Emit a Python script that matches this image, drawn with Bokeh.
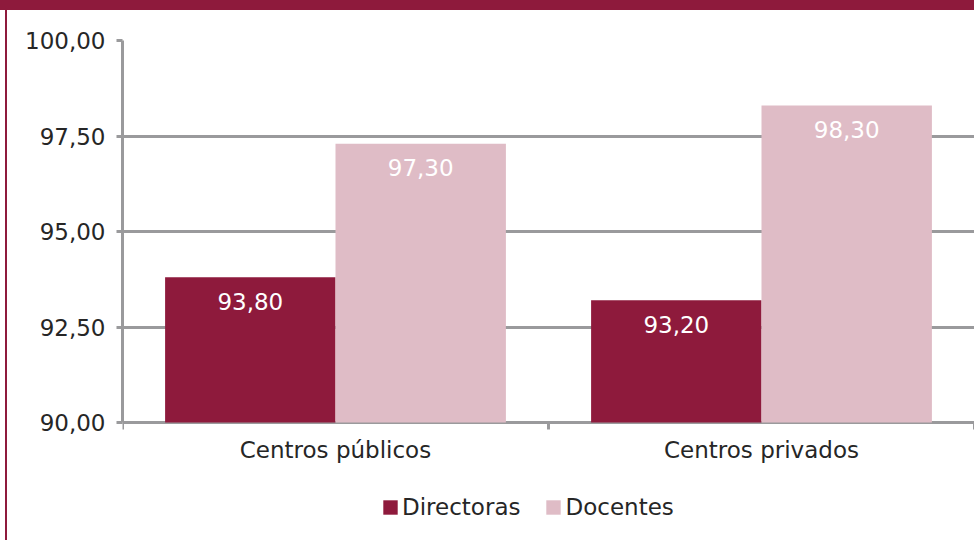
import math
from bokeh.plotting import figure
from bokeh.models import (ColumnDataSource, Range1d, FixedTicker, CustomJSTickFormatter,
                          LabelSet, Legend, LegendItem)
from bokeh.core.properties import value
from bokeh.embed import file_html
from bokeh.resources import INLINE

categories = ["Centros públicos", "Centros privados"]
series_names = ["Directoras", "Docentes"]
directoras = [93.80, 93.20]
docentes = [97.30, 98.30]
y_ticks = [90.0, 92.5, 95.0, 97.5, 100.0]

colors = ["#8E1A3C", "#DFBCC6"]
banner = "#8E1A3C"
grid_color = "#9A9A9C"
text_color = "#262626"
FONT = "DejaVu Sans"
FS = "23px"

# layout: value axis 90..100 spans 382px; the frame continues below 90 to hold labels/legend
FRAME_W, FRAME_H, VALUE_PX = 852, 500, 382
y_min, y_max = y_ticks[0], y_ticks[-1]
y_start = y_min - (FRAME_H - VALUE_PX) * (y_max - y_min) / VALUE_PX

p = figure(frame_width=FRAME_W, frame_height=FRAME_H, output_backend="svg",
           toolbar_location=None, x_axis_location=None,
           x_range=Range1d(0, len(categories)), y_range=Range1d(y_start, y_max),
           min_border_left=122, min_border_right=0, min_border_top=40, min_border_bottom=0)
p.outline_line_color = None
p.background_fill_color = "white"
p.border_fill_alpha = 0
p.styles = {
    "background": (f"linear-gradient({banner}, {banner}) 0 0 / 100% 10px no-repeat, "
                   f"linear-gradient({banner}, {banner}) 5px 0 / 2px 100% no-repeat, white"),
}

# y axis
p.yaxis.bounds = (y_min, y_max)
p.yaxis.ticker = FixedTicker(ticks=y_ticks, minor_ticks=[])
p.yaxis.formatter = CustomJSTickFormatter(code="return tick.toFixed(2).replace('.', ',');")
p.yaxis.axis_line_color = grid_color
p.yaxis.axis_line_width = 3
p.yaxis.major_tick_line_color = grid_color
p.yaxis.major_tick_line_width = 3
p.yaxis.major_tick_out = 6
p.yaxis.major_tick_in = 0
p.yaxis.major_label_standoff = 11
p.yaxis.major_label_text_font = FONT
p.yaxis.major_label_text_font_size = FS
p.yaxis.major_label_text_color = text_color

p.xgrid.grid_line_color = None
p.ygrid.grid_line_color = grid_color
p.ygrid.grid_line_width = 3

# category axis: tick marks at category boundaries, labels at centres
p.ray(x=list(range(len(categories) + 1)), y=[y_min] * (len(categories) + 1),
      length=7, length_units="screen", angle=-math.pi / 2,
      line_color=grid_color, line_width=3)
cat_src = ColumnDataSource(dict(x=[i + 0.5 for i in range(len(categories))],
                                y=[y_min] * len(categories), text=categories))
p.add_layout(LabelSet(x="x", y="y", text="text", source=cat_src, y_offset=-14,
                      text_align="center", text_baseline="top",
                      text_color=text_color, text_font_size=FS, text_font=value(FONT)))

offsets = [-0.2, 0.2]
renderers = []
for vals, off, col, name in zip([directoras, docentes], offsets, colors, series_names):
    src = ColumnDataSource(dict(
        x=[i + 0.5 + off for i in range(len(categories))],
        top=vals,
        label=[f"{v:.2f}".replace(".", ",") for v in vals],
    ))
    r = p.vbar(x="x", top="top", bottom=y_min, width=0.4, source=src,
               fill_color=col, line_color=None)
    renderers.append((name, r))
    p.add_layout(LabelSet(x="x", y="top", text="label", source=src, y_offset=-24,
                          text_align="center", text_baseline="middle",
                          text_color="white", text_font_size=FS, text_font=value(FONT)))

legend = Legend(items=[LegendItem(label=n, renderers=[r]) for n, r in renderers],
                orientation="horizontal", location=(259, 20),
                glyph_width=18, glyph_height=18, label_standoff=3, spacing=24,
                padding=0, margin=0, border_line_color=None, background_fill_alpha=0,
                label_text_font=FONT, label_text_font_size=FS,
                label_text_color=text_color)
p.add_layout(legend, "center")

open("out.html", "w").write(file_html(p, INLINE))
